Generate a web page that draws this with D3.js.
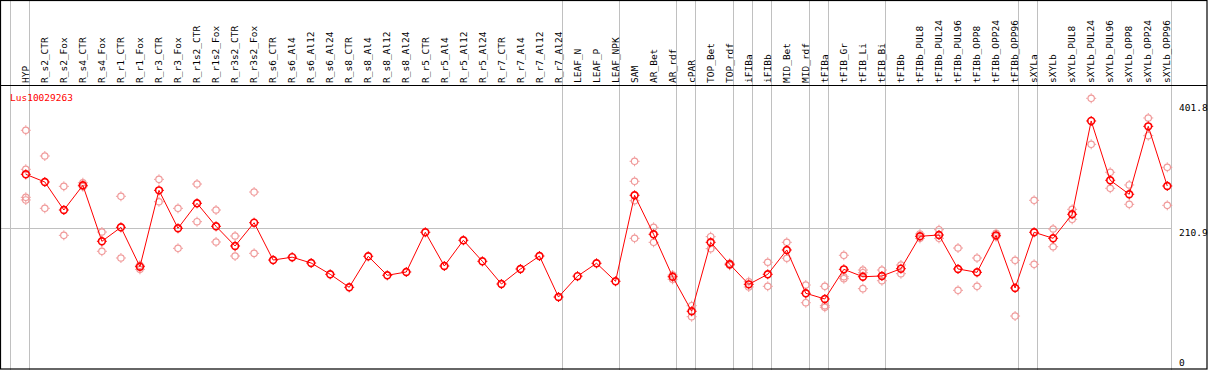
<!DOCTYPE html>
<html>
<head>
<meta charset="utf-8">
<script src="https://cdn.jsdelivr.net/npm/d3@7"></script>
<style>
  body { margin: 0; background: #fff; }
  text { font-family: "DejaVu Sans Mono", "Liberation Mono", monospace; font-size: 9.5px; }
</style>
</head>
<body>
<div id="chart"></div>
<script>
// sample names (columns)
const samples = ["HYP","R_s2_CTR","R_s2_Fox","R_s4_CTR","R_s4_Fox","R_r1_CTR","R_r1_Fox","R_r3_CTR","R_r3_Fox",
  "R_r1s2_CTR","R_r1s2_Fox","R_r3s2_CTR","R_r3s2_Fox","R_s6_CTR","R_s6_Al4","R_s6_Al12","R_s6_Al24",
  "R_s8_CTR","R_s8_Al4","R_s8_Al12","R_s8_Al24","R_r5_CTR","R_r5_Al4","R_r5_Al12","R_r5_Al24",
  "R_r7_CTR","R_r7_Al4","R_r7_Al12","R_r7_Al24","LEAF_N","LEAF_P","LEAF_NPK","SAM","AR_Bet","AR_rdf",
  "cPAR","TOP_Bet","TOP_rdf","iFIBa","iFIBb","MID_Bet","MID_rdf","tFIBa","tFIB_Gr","tFIB_Li","tFIB_Bi",
  "tFIBb","tFIBb_PUL8","tFIBb_PUL24","tFIBb_PUL96","tFIBb_OPP8","tFIBb_OPP24","tFIBb_OPP96",
  "sXYLa","sXYLb","sXYLb_PUL8","sXYLb_PUL24","sXYLb_PUL96","sXYLb_OPP8","sXYLb_OPP24","sXYLb_OPP96"];

// mean expression per sample
const means = [289.8,278.5,237.2,273.6,191.1,211.7,153.7,266.2,210.3,247.1,213.2,184.2,218.5,163.5,167.7,159.1,142.5,
  123.3,169.0,141.0,145.9,204.4,154.7,192.6,161.6,128.2,150.3,169.4,109.0,139.7,158.7,132.2,258.9,201.4,138.9,
  88.0,189.6,157.2,127.7,142.5,178.3,114.5,106.1,149.8,138.9,140.0,150.7,198.5,200.4,150.3,145.4,199.9,122.3,
  204.4,195.5,230.9,368.4,281.0,260.4,360.5,272.6];

// replicate values per sample (empty = no replicates shown)
const replicates = [
  [354.7,297.2,255.9,252.0],[316.8,239.7],[272.1,199.9],[277.4,271.6],[204.8,176.4],[257.4,166.5],[155.7,149.8],
  [282.4,249.4],[239.7,180.8],[275.5,220.0],[237.2,190.1],[198.9,169.4],[263.7,173.4],
  [],[],[],[],[],[],[],[],[],[],[],[],[],[],[],[],[],[],[],
  [309.0,279.5,250.9,195.5],[211.7,189.6],[141.4,135.1],[96.2,80.0],[197.9,180.2],[158.7,155.7],[131.6,123.8],
  [160.2,124.8],[189.6,166.1],[126.7,100.6],[124.8,96.2,93.9],[170.5,138.9,136.0],[148.8,144.8,121.3],
  [148.8,133.0],[156.2,143.4],[201.9,195.5],[208.2,195.5],[181.2,118.9],[166.5,124.8],[202.9,197.9],[163.1,81.0],
  [251.5,157.2],[209.2,183.1],[238.2,223.5],[401.8,334.0],[292.8,269.2],[274.1,245.6],[372.8,346.7],[300.1,244.1]];

// first sample of each group (gray separator drawn on its left edge)
const groupStarts = ["HYP","R_s2_CTR","LEAF_N","SAM","cPAR","TOP_Bet","iFIBa","iFIBb","MID_Bet","tFIBa",
  "tFIB_Gr","tFIBb","sXYLa","sXYLb"];

const geneId = "Lus10029263";
const axisLabels = [401.8, 210.9, 0];
const refLine = 210.9;

const w = 1209;
const h = 370;
const headerH = 85;

const svg = d3.select("#chart").append("svg")
  .attr("width", w)
  .attr("height", h);

let x = d3.scaleBand()
  .domain(samples)
  .range([10, 1170.5])
  .paddingInner(0)
  .paddingOuter(0);

let y = d3.scaleLinear()
  .domain([0, 401.8])
  .range([371, 98.3]);

const px = d => x(d) + 15.8;

// gray separators
svg.selectAll("line.sep")
  .data(groupStarts.map(d => x(d)).concat([x.range()[1]]))
  .enter().append("line")
  .attr("class", "sep")
  .attr("x1", d => Math.round(d) + 0.5)
  .attr("x2", d => Math.round(d) + 0.5)
  .attr("y1", 0)
  .attr("y2", h)
  .attr("stroke", "#c0c0c0")
  .attr("stroke-width", 1);

// reference line
svg.append("line")
  .attr("x1", 0)
  .attr("x2", Math.round(x.range()[1]))
  .attr("y1", Math.round(y(refLine)) + 0.5)
  .attr("y2", Math.round(y(refLine)) + 0.5)
  .attr("stroke", "#c0c0c0");

// frame + header rule
svg.append("rect")
  .attr("x", 0.5).attr("y", 0.5)
  .attr("width", w - 2.5).attr("height", h - 1.5)
  .attr("fill", "none")
  .attr("stroke", "#000")
  .attr("stroke-width", 1.2);

svg.append("line")
  .attr("x1", 0).attr("x2", w - 2)
  .attr("y1", headerH + 0.5).attr("y2", headerH + 0.5)
  .attr("stroke", "#000")
  .attr("stroke-width", 1.2);

// rotated column labels
svg.selectAll("text.col")
  .data(samples)
  .enter().append("text")
  .attr("class", "col")
  .attr("transform", d => "translate(" + (x(d) + 19) + ",83) rotate(-90)")
  .attr("fill", "#000")
  .text(d => d);

// right side value labels
const labelTop = [103, 228, 358];
svg.selectAll("text.val")
  .data(axisLabels)
  .enter().append("text")
  .attr("class", "val")
  .attr("x", 1179)
  .attr("y", (d, i) => labelTop[i] + 7.5)
  .attr("fill", "#000")
  .text(d => d);

svg.append("text")
  .attr("x", 10)
  .attr("y", 100.5)
  .attr("fill", "#ff0000")
  .text(geneId);

// little tick marks around each circle
function ticks(cx, cy) {
  return "M" + (cx - 5) + "," + cy + "h1.5M" + (cx + 3.5) + "," + cy + "h1.5" +
         "M" + cx + "," + (cy - 5) + "v1.5M" + cx + "," + (cy + 3.5) + "v1.5";
}

// replicates
let reps = [];
samples.forEach((s, i) => replicates[i].forEach(v => reps.push({s: s, v: v})));

let repG = svg.append("g");
repG.selectAll("circle")
  .data(reps)
  .enter().append("circle")
  .attr("cx", d => px(d.s))
  .attr("cy", d => y(d.v))
  .attr("r", 3.2)
  .attr("fill", "none")
  .attr("stroke", "#f09a9a")
  .attr("stroke-width", 1.2);
repG.selectAll("path")
  .data(reps)
  .enter().append("path")
  .attr("d", d => ticks(px(d.s), y(d.v)))
  .attr("stroke", "#f09a9a")
  .attr("stroke-width", 1);

// mean line
const line = d3.line()
  .x((d, i) => px(samples[i]))
  .y(d => y(d));

svg.append("path")
  .datum(means)
  .attr("d", line)
  .attr("fill", "none")
  .attr("stroke", "#ff0000")
  .attr("stroke-width", 1);

let meanG = svg.append("g");
meanG.selectAll("circle")
  .data(means)
  .enter().append("circle")
  .attr("cx", (d, i) => px(samples[i]))
  .attr("cy", d => y(d))
  .attr("r", 3.4)
  .attr("fill", "none")
  .attr("stroke", "#ff0000")
  .attr("stroke-width", 1.6);
meanG.selectAll("path")
  .data(means)
  .enter().append("path")
  .attr("d", (d, i) => ticks(px(samples[i]), y(d)))
  .attr("stroke", "#ff0000")
  .attr("stroke-width", 1);
</script>
</body>
</html>
